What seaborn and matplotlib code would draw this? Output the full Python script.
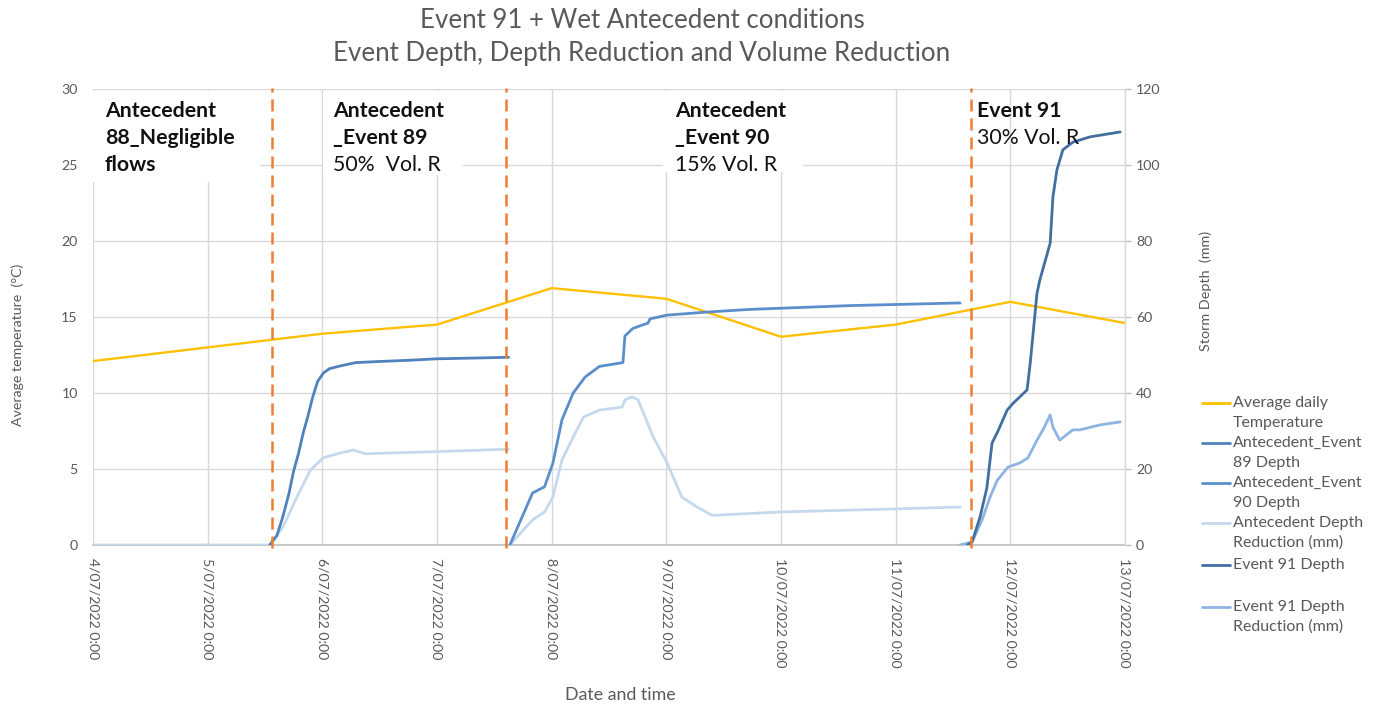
import matplotlib
matplotlib.use("Agg")
import pandas as pd
import matplotlib.pyplot as plt
import seaborn as sns
from matplotlib.lines import Line2D
from matplotlib.patches import Rectangle

# ---------------- data ----------------
# Average daily temperature (deg C), left axis
temp_dates = ["2022-07-04", "2022-07-05", "2022-07-06", "2022-07-07", "2022-07-08",
              "2022-07-09", "2022-07-10", "2022-07-11", "2022-07-12", "2022-07-13"]
temp_values = [12.1, 13.0, 13.9, 14.5, 16.9, 16.2, 13.7, 14.5, 16.0, 14.6]

# Antecedent_Event 89 cumulative depth (mm)
e89_times = ["2022-07-05 13:00", "2022-07-05 14:30", "2022-07-05 15:45", "2022-07-05 17:00",
             "2022-07-05 18:00", "2022-07-05 19:00", "2022-07-05 20:00", "2022-07-05 21:00",
             "2022-07-05 22:00", "2022-07-05 23:00", "2022-07-06 00:15", "2022-07-06 01:30",
             "2022-07-06 04:00", "2022-07-06 07:00", "2022-07-06 12:00", "2022-07-06 18:00",
             "2022-07-07 00:00", "2022-07-07 08:00", "2022-07-07 15:00"]
e89_depth = [0.0, 2.5, 7.5, 13.5, 19.5, 24.0, 29.5, 34.0,
             39.0, 43.0, 45.3, 46.4, 47.2, 48.0, 48.3, 48.6, 49.0, 49.2, 49.4]

# Antecedent depth reduction (mm) - dry lead-in and Event 89 part
ant_red_a_times = ["2022-07-04 00:00", "2022-07-05 13:00", "2022-07-05 15:45", "2022-07-05 18:40",
                   "2022-07-05 21:30", "2022-07-06 00:15", "2022-07-06 03:45", "2022-07-06 06:30",
                   "2022-07-06 09:00", "2022-07-06 14:00", "2022-07-07 00:30", "2022-07-07 15:00"]
ant_red_a = [0.0, 0.0, 4.7, 12.6, 19.7, 23.0, 24.2, 25.0, 24.0, 24.2, 24.6, 25.2]

# Antecedent_Event 90 cumulative depth (mm)
e90_times = ["2022-07-07 15:15", "2022-07-07 20:00", "2022-07-07 22:30", "2022-07-08 00:15",
             "2022-07-08 02:10", "2022-07-08 04:30", "2022-07-08 07:00", "2022-07-08 10:00",
             "2022-07-08 14:55", "2022-07-08 15:20", "2022-07-08 17:00", "2022-07-08 20:10",
             "2022-07-08 20:35", "2022-07-09 00:10", "2022-07-09 08:30", "2022-07-09 17:30",
             "2022-07-10 14:30", "2022-07-11 13:30"]
e90_depth = [0.0, 13.7, 15.3, 21.5, 33.0, 40.0, 44.2, 47.0,
             48.0, 55.0, 57.0, 58.4, 59.5, 60.5, 61.3, 62.0, 63.0, 63.7]

# Antecedent depth reduction (mm) - Event 90 part
ant_red_b_times = ["2022-07-07 15:15", "2022-07-07 20:00", "2022-07-07 22:30", "2022-07-08 00:15",
                   "2022-07-08 02:10", "2022-07-08 04:30", "2022-07-08 06:40", "2022-07-08 10:00",
                   "2022-07-08 14:45", "2022-07-08 15:20", "2022-07-08 16:50", "2022-07-08 18:05",
                   "2022-07-08 21:15", "2022-07-09 00:10", "2022-07-09 03:15", "2022-07-09 06:25",
                   "2022-07-09 09:35", "2022-07-10 00:00", "2022-07-11 00:00", "2022-07-11 13:30"]
ant_red_b = [0.0, 6.6, 8.7, 12.6, 22.4, 28.4, 33.7, 35.5, 36.3, 38.2,
             39.0, 38.2, 28.4, 21.6, 12.6, 10.0, 7.8, 8.7, 9.5, 10.0]

# Event 91 cumulative depth (mm)
e91_times = ["2022-07-11 15:00", "2022-07-11 16:00", "2022-07-11 17:40", "2022-07-11 19:05",
             "2022-07-11 20:10", "2022-07-11 21:25", "2022-07-11 23:20", "2022-07-12 00:35",
             "2022-07-12 02:00", "2022-07-12 03:30", "2022-07-12 04:10", "2022-07-12 05:35",
             "2022-07-12 06:10", "2022-07-12 08:20", "2022-07-12 08:55", "2022-07-12 09:45",
             "2022-07-12 11:00", "2022-07-12 13:05", "2022-07-12 16:40", "2022-07-12 23:00"]
e91_depth = [0.0, 0.8, 7.4, 15.0, 26.8, 30.0, 35.5, 37.3, 39.0, 40.8,
             47.9, 66.3, 69.7, 79.4, 91.6, 98.7, 104.0, 106.0, 107.4, 108.7]

# Event 91 depth reduction (mm)
e91_red_times = ["2022-07-11 13:30", "2022-07-11 16:00", "2022-07-11 18:05", "2022-07-11 19:45",
                 "2022-07-11 21:15", "2022-07-11 23:30", "2022-07-12 02:00", "2022-07-12 03:40",
                 "2022-07-12 05:35", "2022-07-12 06:50", "2022-07-12 08:20", "2022-07-12 08:55",
                 "2022-07-12 10:20", "2022-07-12 13:05", "2022-07-12 14:35", "2022-07-12 18:45",
                 "2022-07-12 23:00"]
e91_red = [0.0, 0.8, 6.6, 12.6, 17.0, 20.5, 21.6, 22.9, 27.6,
           30.3, 34.2, 31.0, 27.6, 30.3, 30.3, 31.6, 32.4]

# Start of each event window (dashed separators)
event_starts = ["2022-07-05 13:30", "2022-07-07 14:30", "2022-07-11 15:45"]

# Axis tick positions
day_ticks = pd.date_range("2022-07-04", "2022-07-13", freq="D")
temp_ticks = [0, 5, 10, 15, 20, 25, 30]
depth_ticks = [0, 20, 40, 60, 80, 100, 120]

series_labels = ["Average daily\nTemperature", "Antecedent_Event\n89 Depth",
                 "Antecedent_Event\n90 Depth", "Antecedent Depth\nReduction (mm)",
                 "Event 91 Depth", "Event 91 Depth\nReduction (mm)"]

# ---------------- styling ----------------
sns.set_theme(style="white")
plt.rcParams["font.family"] = ["Lato", "DejaVu Sans"]

GREY = "#595959"
GRID = "#d9d9d9"
c_temp = "#ffc000"
c_e89 = "#4f81bd"
c_e90 = "#5b8fcc"
c_ant_red = "#c6d8ee"
c_e91 = "#41709f"
c_e91_red = "#8db4e2"
c_event = "#ed7d31"

W, H = 1381, 707
fig = plt.figure(figsize=(W / 100, H / 100), dpi=100)
fig.patch.set_facecolor("white")
ax = fig.add_axes([93 / W, 1 - 545 / H, (1125 - 93) / W, (545 - 89) / H])
ax2 = ax.twinx()


def to_dt(values):
    return pd.to_datetime(pd.Series(values))


# temperature on the left axis
sns.lineplot(x=to_dt(temp_dates), y=temp_values, ax=ax, color=c_temp,
             linewidth=1.7, estimator=None, sort=False, zorder=3)

# storm depths on the right axis
line_kw = dict(ax=ax2, estimator=None, sort=False, linewidth=2.0)
sns.lineplot(x=to_dt(ant_red_a_times), y=ant_red_a, color=c_ant_red, **line_kw)
sns.lineplot(x=to_dt(ant_red_b_times), y=ant_red_b, color=c_ant_red, **line_kw)
sns.lineplot(x=to_dt(e89_times), y=e89_depth, color=c_e89, **line_kw)
sns.lineplot(x=to_dt(e90_times), y=e90_depth, color=c_e90, **line_kw)
sns.lineplot(x=to_dt(e91_red_times), y=e91_red, color=c_e91_red, **line_kw)
sns.lineplot(x=to_dt(e91_times), y=e91_depth, color=c_e91, **line_kw)

# event separators
for t in to_dt(event_starts):
    ax2.axvline(t, ymin=-0.007, ymax=1.003, color=c_event, linewidth=1.8,
                linestyle=(0, (4.8, 2.8)), zorder=6, clip_on=False)

# axes limits / ticks
xlim = (day_ticks[0], day_ticks[-1])
ax.set_xlim(xlim)
ax2.set_xlim(xlim)
ax.set_ylim(0, 30)
ax2.set_ylim(0, 120)
ax.set_yticks(temp_ticks)
ax2.set_yticks(depth_ticks)
ax.set_xticks(day_ticks)
ax.set_xticklabels([f"{d.day}/{d:%m/%Y} {d.hour}:{d:%M}" for d in day_ticks],
                   rotation=270, ha="center", va="top")
ax.set_xlabel("")
ax.set_ylabel("")
ax2.set_ylabel("")

ax.set_axisbelow(True)
ax.grid(True, color=GRID, linewidth=1.0)
ax2.grid(False)

ax.tick_params(axis="x", length=0, pad=9, labelsize=10.2, labelcolor=GREY)
ax.tick_params(axis="y", length=0, pad=11, labelsize=10.2, labelcolor=GREY)
ax2.tick_params(axis="y", right=True, length=4, width=1, color="#bfbfbf", pad=4,
                labelsize=10.2, labelcolor=GREY)

for a in (ax, ax2):
    a.patch.set_alpha(0)
    for s in a.spines.values():
        s.set_visible(False)
ax.set_facecolor("white")
ax.patch.set_alpha(1)
ax.spines["bottom"].set_visible(True)
ax.spines["bottom"].set_color("#bfbfbf")
ax.spines["bottom"].set_linewidth(1.2)
ax2.spines["right"].set_visible(True)
ax2.spines["right"].set_color(GRID)
ax2.spines["right"].set_linewidth(1.0)

# white text boxes for the event annotations (axes fraction)
boxes = [(0.0, 0.796, 0.162, 0.200), (0.2229, 0.811, 0.1356, 0.185),
         (0.5523, 0.818, 0.1357, 0.178)]
for x0, y0, w, h in boxes:
    ax.add_patch(Rectangle((x0, y0), w, h, transform=ax.transAxes,
                           facecolor="white", edgecolor="none", zorder=1))

ann_rows = [0.952, 0.893, 0.833]
txt_kw = dict(transform=ax.transAxes, va="center", ha="left", fontsize=15.3,
              color="#111111", zorder=7)
ax2.text(0.0116, ann_rows[0], "Antecedent", fontweight="bold", **txt_kw)
ax2.text(0.0116, ann_rows[1], "88_Negligible", fontweight="bold", **txt_kw)
ax2.text(0.0116, ann_rows[2], "flows", fontweight="bold", **txt_kw)
ax2.text(0.2326, ann_rows[0], "Antecedent", fontweight="bold", **txt_kw)
ax2.text(0.2326, ann_rows[1], "_Event 89", fontweight="bold", **txt_kw)
ax2.text(0.2326, ann_rows[2], "50%  Vol. R", **txt_kw)
ax2.text(0.5640, ann_rows[0], "Antecedent", fontweight="bold", **txt_kw)
ax2.text(0.5640, ann_rows[1], "_Event 90", fontweight="bold", **txt_kw)
ax2.text(0.5640, ann_rows[2], "15% Vol. R", **txt_kw)
ax2.text(0.8566, ann_rows[0], "Event 91", fontweight="bold", **txt_kw)
ax2.text(0.8566, ann_rows[1], "30% Vol. R", **txt_kw)

# titles and axis labels
fig.text(642 / W, 1 - 21 / H, "Event 91 + Wet Antecedent conditions",
         ha="center", va="center", fontsize=18.6, color=GREY)
fig.text(642 / W, 1 - 53 / H, "Event Depth, Depth Reduction and Volume Reduction",
         ha="center", va="center", fontsize=18.6, color=GREY)
fig.text(18 / W, 1 - 345 / H, "Average temperature  (\u00b0C)", rotation=90,
         ha="center", va="center", fontsize=10.2, color=GREY)
fig.text(1206 / W, 1 - 291 / H, "Storm Depth  (mm)", rotation=90,
         ha="center", va="center", fontsize=10.4, color=GREY)
fig.text(620 / W, 1 - 695 / H, "Date and time", ha="center", va="center",
         fontsize=12.8, color=GREY)

# legend
leg_colors = [c_temp, c_e89, c_e90, c_ant_red, c_e91, c_e91_red]
leg_first_y = [403, 443, 483, 523, 565, 607]
for lab, col, y in zip(series_labels, leg_colors, leg_first_y):
    fig.add_artist(Line2D([1202 / W, 1230 / W], [1 - y / H, 1 - y / H],
                          transform=fig.transFigure, color=col, linewidth=2.0))
    for i, part in enumerate(lab.split("\n")):
        fig.text(1233 / W, 1 - (y + 20 * i) / H, part, ha="left", va="center",
                 fontsize=11.5, color=GREY)

fig.savefig("out.png", dpi=100, facecolor="white")
